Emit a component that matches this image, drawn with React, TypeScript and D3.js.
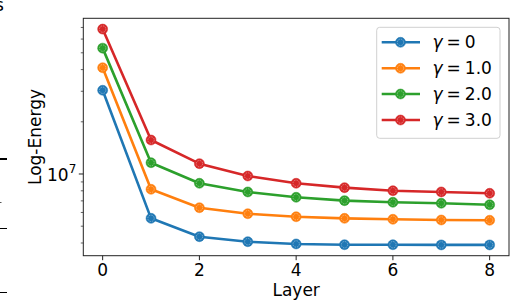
import React from "react";
import * as d3 from "d3";

const layers = [0, 1, 2, 3, 4, 5, 6, 7, 8];
const gamma0 = [3.04e7, 5.55e6, 4.35e6, 4.07e6, 3.95e6, 3.91e6, 3.91e6, 3.9e6, 3.9e6];
const gamma1 = [4.1e7, 8.16e6, 6.39e6, 5.9e6, 5.67e6, 5.55e6, 5.48e6, 5.43e6, 5.41e6];
const gamma2 = [5.32e7, 1.162e7, 8.84e6, 7.88e6, 7.34e6, 7.02e6, 6.87e6, 6.78e6, 6.65e6];
const gamma3 = [6.85e7, 1.57e7, 1.147e7, 9.74e6, 8.84e6, 8.34e6, 8.01e6, 7.88e6, 7.74e6];
const seriesLabels = ["0", "1.0", "2.0", "3.0"];
const colors = ["#1f77b4", "#ff7f0e", "#2ca02c", "#d62728"];
const xTicks = [0, 2, 4, 6, 8];

const series = [gamma0, gamma1, gamma2, gamma3];
const FONT = "DejaVu Sans, sans-serif";
const FS = 17;

export default function App() {
  const left = 83.3, right = 509, top = 18.3, bottom = 255.7;
  const x = d3.scaleLinear().domain([-0.4, 8.4]).range([left, right]);
  const all = series.flat();
  const lmin = Math.log10(d3.min(all) as number);
  const lmax = Math.log10(d3.max(all) as number);
  const pad = (lmax - lmin) * 0.05;
  const y = d3.scaleLog().domain([10 ** (lmin - pad), 10 ** (lmax + pad)]).range([bottom, top]);
  const [d0, d1] = y.domain();
  const minor: number[] = [];
  for (let e = 6; e <= 7; e++) {
    for (let m = 2; m <= 9; m++) {
      const v = m * 10 ** e;
      if (v >= d0 && v <= d1) minor.push(v);
    }
  }
  const line = d3.line<number>().x((_, i) => x(layers[i])).y((d) => y(d));

  const legX = 376.7, legY = 27.3, legW = 123.3, legH = 111;
  const rowYs = [42.3, 68.3, 94, 120];

  return (
    <svg width={510} height={300} style={{ position: "absolute", left: 0, top: 0 }} fontFamily={FONT}>
      <rect width={510} height={300} fill="white" />
      {/* fragments of neighbouring panel */}
      <text x={-5} y={11} fontSize={FS} fill="black">s</text>
      <line x1={0} x2={7} y1={159} y2={159} stroke="black" strokeWidth={2} />
      <line x1={0} x2={1.5} y1={202.5} y2={202.5} stroke="#555" strokeWidth={1} />
      <line x1={0} x2={7} y1={228.5} y2={228.5} stroke="black" strokeWidth={1} />
      <line x1={0} x2={7} y1={292.5} y2={292.5} stroke="black" strokeWidth={1} />

      {/* series */}
      {series.map((s, si) => (
        <g key={si}>
          <path d={line(s) || ""} fill="none" stroke={colors[si]} strokeWidth={2.6} strokeLinejoin="round" />
          {s.map((v, i) => (
            <g key={i}>
              <circle cx={x(layers[i])} cy={y(v)} r={5} fill={colors[si]} stroke={colors[si]} strokeOpacity={0.5} strokeWidth={1} />
              <circle cx={x(layers[i])} cy={y(v)} r={3.2} fill="none" stroke="white" strokeOpacity={0.45} strokeWidth={0.8} strokeDasharray="1.5 1" />
            </g>
          ))}
        </g>
      ))}

      {/* axes frame */}
      <rect x={left} y={top} width={right - left} height={bottom - top} fill="none" stroke="#222" strokeWidth={1} />

      {/* y ticks */}
      {minor.map((v) => (
        <line key={v} x1={left - 2.5} x2={left} y1={y(v)} y2={y(v)} stroke="#222" strokeWidth={0.7} />
      ))}
      <line x1={left - 4.5} x2={left} y1={y(1e7)} y2={y(1e7)} stroke="#222" strokeWidth={1} />
      <text x={left - 7} y={y(1e7) + 7} fontSize={FS} textAnchor="end" fill="black">
        10<tspan fontSize={12} dy={-8}>7</tspan>
      </text>
      <text transform={`translate(41,${(top + bottom) / 2}) rotate(-90)`} fontSize={FS} textAnchor="middle" fill="black">
        Log-Energy
      </text>

      {/* x ticks */}
      {xTicks.map((t) => (
        <g key={t}>
          <line x1={x(t)} x2={x(t)} y1={bottom} y2={bottom + 4.5} stroke="#222" strokeWidth={1} />
          <text x={x(t)} y={276} fontSize={FS} textAnchor="middle" fill="black">{t}</text>
        </g>
      ))}
      <text x={(left + right) / 2} y={295.5} fontSize={FS} textAnchor="middle" fill="black">Layer</text>

      {/* legend */}
      <rect x={legX} y={legY} width={legW} height={legH} rx={3} fill="white" fillOpacity={0.8} stroke="#d0d0d0" strokeWidth={1} />
      {seriesLabels.map((lab, i) => (
        <g key={i}>
          <line x1={381.7} x2={420} y1={rowYs[i]} y2={rowYs[i]} stroke={colors[i]} strokeWidth={2.6} />
          <circle cx={400.5} cy={rowYs[i]} r={5} fill={colors[i]} stroke={colors[i]} strokeOpacity={0.5} strokeWidth={1} />
          <circle cx={400.5} cy={rowYs[i]} r={3.2} fill="none" stroke="white" strokeOpacity={0.45} strokeWidth={0.8} strokeDasharray="1.5 1" />
          <text x={432.5} y={rowYs[i] + 6} fontSize={FS} fill="black">
            <tspan fontStyle="italic">γ</tspan>
            <tspan dx={4}>=</tspan>
            <tspan dx={4}>{lab}</tspan>
          </text>
        </g>
      ))}
    </svg>
  );
}
